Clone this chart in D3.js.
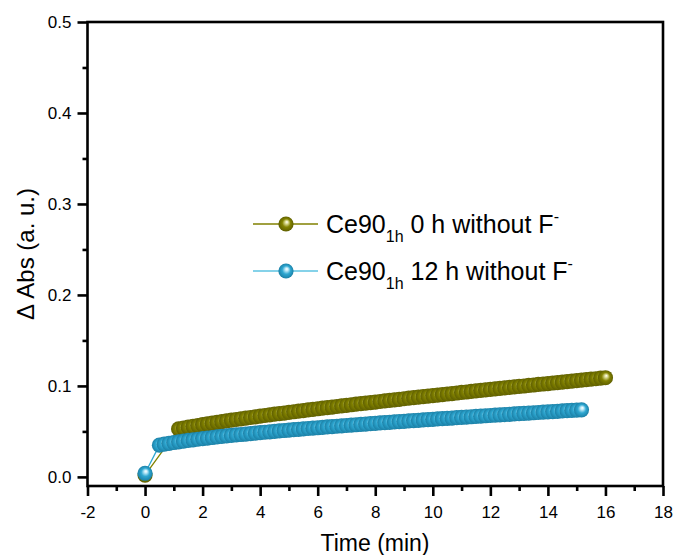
<!DOCTYPE html>
<html>
<head>
<meta charset="utf-8">
<script src="https://cdn.jsdelivr.net/npm/d3@7"></script>
<style>
  body { margin: 0; background: #fff; }
  text { font-family: "Liberation Sans", Arial, Helvetica, sans-serif; fill: #000; }
</style>
</head>
<body>
<svg id="chart" width="675" height="555"></svg>
<script>
// Time stamps in seconds for each series
const timeCe90_0h = [0,70,80,90,100,110,120,130,140,150,160,170,180,190,200,210,220,230,240,250,
  260,270,280,290,300,310,320,330,340,350,360,370,380,390,400,410,420,430,440,450,
  460,470,480,490,500,510,520,530,540,550,560,570,580,590,600,610,620,630,640,650,
  660,670,680,690,700,710,720,730,740,750,760,770,780,790,800,810,820,830,840,850,
  860,870,880,890,900,910,920,930,940,950,960];
const absCe90_0h = [0.002,
  0.0527,0.0537,0.0547,0.0556,0.0565,0.0574,0.0583,0.0591,0.0599,0.0607,
  0.0615,0.0623,0.0631,0.0638,0.0646,0.0653,0.0660,0.0668,0.0675,0.0682,
  0.0689,0.0696,0.0702,0.0709,0.0716,0.0722,0.0729,0.0736,0.0742,0.0749,
  0.0755,0.0761,0.0768,0.0774,0.0780,0.0787,0.0793,0.0799,0.0805,0.0811,
  0.0817,0.0823,0.0829,0.0835,0.0841,0.0847,0.0853,0.0859,0.0865,0.0871,
  0.0876,0.0882,0.0888,0.0894,0.0899,0.0905,0.0911,0.0916,0.0922,0.0928,
  0.0933,0.0939,0.0945,0.0950,0.0956,0.0961,0.0967,0.0972,0.0978,0.0983,
  0.0989,0.0994,0.0999,0.1005,0.1010,0.1016,0.1021,0.1026,0.1032,0.1037,
  0.1042,0.1048,0.1053,0.1058,0.1064,0.1069,0.1074,0.1079,0.1085,0.1090];

const timeCe90_12h = [0,30,40,50,60,70,80,90,100,110,120,130,140,150,160,170,180,190,200,210,
  220,230,240,250,260,270,280,290,300,310,320,330,340,350,360,370,380,390,400,410,
  420,430,440,450,460,470,480,490,500,510,520,530,540,550,560,570,580,590,600,610,
  620,630,640,650,660,670,680,690,700,710,720,730,740,750,760,770,780,790,800,810,
  820,830,840,850,860,870,880,890,900,910];
const absCe90_12h = [0.004,
  0.0349,0.0360,0.0369,0.0378,0.0386,0.0394,0.0401,0.0408,0.0414,0.0421,
  0.0427,0.0433,0.0439,0.0445,0.0450,0.0456,0.0461,0.0466,0.0471,0.0476,
  0.0481,0.0486,0.0491,0.0496,0.0501,0.0505,0.0510,0.0514,0.0519,0.0523,
  0.0528,0.0532,0.0536,0.0540,0.0545,0.0549,0.0553,0.0557,0.0561,0.0565,
  0.0569,0.0573,0.0577,0.0581,0.0585,0.0589,0.0593,0.0596,0.0600,0.0604,
  0.0608,0.0611,0.0615,0.0619,0.0622,0.0626,0.0630,0.0633,0.0637,0.0640,
  0.0644,0.0647,0.0651,0.0654,0.0658,0.0661,0.0665,0.0668,0.0672,0.0675,
  0.0678,0.0682,0.0685,0.0688,0.0692,0.0695,0.0698,0.0702,0.0705,0.0708,
  0.0712,0.0715,0.0718,0.0721,0.0725,0.0728,0.0731,0.0734,0.0737];

// Axis ticks
const xMajorTicks = [-2,0,2,4,6,8,10,12,14,16,18];
const xMinorTicks = [-1,1,3,5,7,9,11,13,15,17];
const yMajorTicks = [0,0.1,0.2,0.3,0.4,0.5];
const yMinorTicks = [0.05,0.15,0.25,0.35,0.45];

// Series definitions
const seriesNames = ["0 h without F", "12 h without F"];
const seriesColors = ["#828200", "#2ea7d1"];
const seriesLight = ["#e2e2a0", "#c8eefa"];
const seriesDark = ["#5f5f00", "#1b80a6"];
const legendLineColors = ["#808000", "#5cc3e2"];

const svg = d3.select("#chart");
const x = d3.scaleLinear().domain([-2, 18]).range([87.5, 663]);
const y = d3.scaleLinear().domain([-0.01, 0.5]).range([486, 22]);

// Shaded ball gradients
const defs = svg.append("defs");
seriesColors.forEach((c, i) => {
  const g = defs.append("radialGradient")
    .attr("id", "ball" + i)
    .attr("cx", 0.5).attr("cy", 0.5).attr("r", 0.5)
    .attr("fx", 0.56).attr("fy", 0.36);
  g.append("stop").attr("offset", "0%").attr("stop-color", "#ffffff");
  g.append("stop").attr("offset", "18%").attr("stop-color", seriesLight[i]);
  g.append("stop").attr("offset", "55%").attr("stop-color", c);
  g.append("stop").attr("offset", "100%").attr("stop-color", seriesDark[i]);
});

// Axes
const axisStroke = 2.6;
const xAxisMajor = d3.axisBottom(x).tickValues(xMajorTicks).tickSize(10).tickPadding(10)
  .tickFormat(d => String(d));
const xAxisMinor = d3.axisBottom(x).tickValues(xMinorTicks).tickSize(5).tickFormat("");
const yAxisMajor = d3.axisLeft(y).tickValues(yMajorTicks).tickSize(10).tickPadding(6)
  .tickFormat(d => d.toFixed(1));
const yAxisMinor = d3.axisLeft(y).tickValues(yMinorTicks).tickSize(5).tickFormat("");

function styleAxis(g) {
  g.select(".domain").remove();
  g.selectAll("line").attr("stroke", "#000").attr("stroke-width", axisStroke);
  g.selectAll("text").style("font-size", "17px").attr("fill", "#000");
}

svg.append("g").attr("transform", "translate(0,486)").call(xAxisMinor).call(styleAxis);
svg.append("g").attr("transform", "translate(0,486)").call(xAxisMajor).call(styleAxis);
svg.append("g").attr("transform", "translate(87.5,0)").call(yAxisMinor).call(styleAxis);
svg.append("g").attr("transform", "translate(87.5,0)").call(yAxisMajor).call(styleAxis);

// Frame
svg.append("rect")
  .attr("x", x(-2)).attr("y", y(0.5))
  .attr("width", x(18) - x(-2)).attr("height", y(-0.01) - y(0.5))
  .attr("fill", "none").attr("stroke", "#000").attr("stroke-width", axisStroke);

// Axis titles
svg.append("text")
  .attr("transform", "rotate(-90)")
  .attr("x", -254).attr("y", 34)
  .attr("text-anchor", "middle")
  .style("font-size", "24px")
  .text("\u0394 Abs (a. u.)");
svg.append("text")
  .attr("x", 375).attr("y", 551)
  .attr("text-anchor", "middle")
  .style("font-size", "23px")
  .text("Time (min)");

// Data series
const datasets = [
  timeCe90_0h.map((t, i) => ({ t: t / 60, v: absCe90_0h[i] })),
  timeCe90_12h.map((t, i) => ({ t: t / 60, v: absCe90_12h[i] }))
];
const line = d3.line().x(d => x(d.t)).y(d => y(d.v));
const R = 7.6;

datasets.forEach((data, i) => {
  const g = svg.append("g");
  g.append("path").datum(data)
    .attr("d", line).attr("fill", "none")
    .attr("stroke", seriesColors[i]).attr("stroke-width", 1.3);
  g.selectAll("circle").data(data).join("circle")
    .attr("cx", d => x(d.t)).attr("cy", d => y(d.v)).attr("r", R)
    .attr("fill", `url(#ball${i})`);
});

// Legend
const legendRows = [224, 271];
seriesNames.forEach((name, i) => {
  const ly = legendRows[i];
  const g = svg.append("g");
  g.append("line").attr("x1", 253).attr("x2", 318).attr("y1", ly).attr("y2", ly)
    .attr("stroke", legendLineColors[i]).attr("stroke-width", 1.6);
  g.append("circle").attr("cx", 286).attr("cy", ly).attr("r", R)
    .attr("fill", `url(#ball${i})`);
  const t = g.append("text").attr("x", 326).attr("y", ly + 9).style("font-size", "25px");
  t.append("tspan").text("Ce90");
  t.append("tspan").attr("dy", 9).style("font-size", "16px").text("1h");
  t.append("tspan").attr("dy", -9).text(" " + name);
  t.append("tspan").attr("dy", -11).style("font-size", "16px").text("-");
});
</script>
</body>
</html>
